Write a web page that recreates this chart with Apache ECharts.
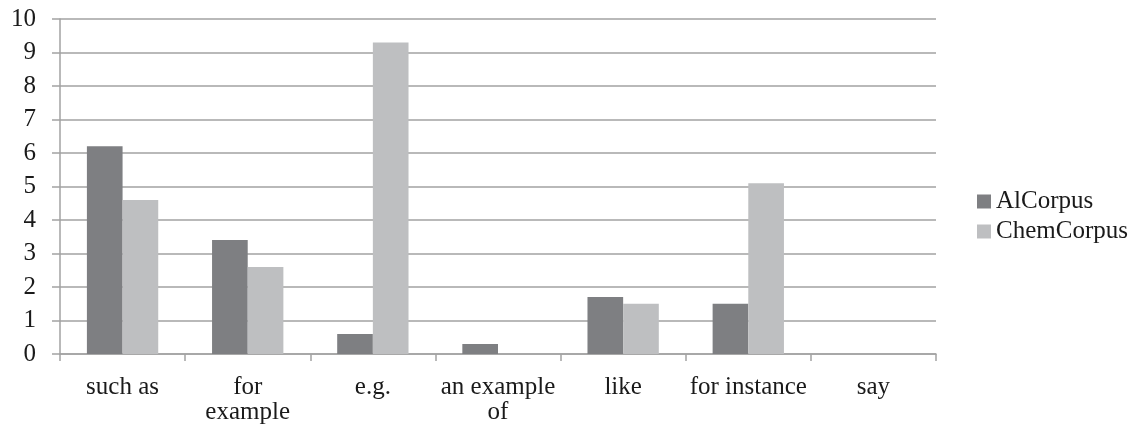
<!DOCTYPE html>
<html>
<head>
<meta charset="utf-8">
<script src="https://cdn.jsdelivr.net/npm/echarts@6/dist/echarts.min.js"></script>
<style>
  html, body { margin: 0; padding: 0; background: #fff; }
  #chart { width: 1146px; height: 432px; }
</style>
</head>
<body>
<div id="chart"></div>
<script>
// Frequency of exemplification markers in the two corpora
var categories = ['such as', 'for example', 'e.g.', 'an example of', 'like', 'for instance', 'say'];
var categoryLabels = ['such as', 'for\nexample', 'e.g.', 'an example\nof', 'like', 'for instance', 'say'];
var alCorpus = [6.2, 3.4, 0.6, 0.3, 1.7, 1.5, 0];
var chemCorpus = [4.6, 2.6, 9.3, 0, 1.5, 5.1, 0];
var yTicks = [0, 1, 2, 3, 4, 5, 6, 7, 8, 9, 10];

var FONT = '"Liberation Serif", "Times New Roman", serif';
var FONT_SIZE = 25;
var GRID_COLOR = '#a2a2a2';

var chart = echarts.init(document.getElementById('chart'), null, { renderer: 'canvas' });
chart.setOption({
  animation: false,
  backgroundColor: '#ffffff',
  textStyle: { fontFamily: FONT },
  grid: { left: 60, right: 210, top: 19, bottom: 78, containLabel: false },
  legend: {
    orient: 'vertical',
    left: 972,
    top: 184,
    itemWidth: 14,
    itemHeight: 14,
    itemGap: 5,
    icon: 'rect',
    textStyle: { fontFamily: FONT, fontSize: FONT_SIZE, color: '#1a1a1a', lineHeight: 25 },
    data: ['AlCorpus', 'ChemCorpus']
  },
  xAxis: {
    type: 'category',
    data: categories,
    axisLine: { show: true, lineStyle: { color: GRID_COLOR, width: 1.5 } },
    axisTick: { show: true, length: 7, lineStyle: { color: GRID_COLOR, width: 1.5 } },
    axisLabel: {
      interval: 0,
      margin: 21,
      fontFamily: FONT,
      fontSize: FONT_SIZE,
      lineHeight: 25,
      color: '#1a1a1a',
      formatter: function (value, idx) { return categoryLabels[idx]; }
    },
    splitLine: { show: false }
  },
  yAxis: {
    type: 'value',
    min: yTicks[0],
    max: yTicks[yTicks.length - 1],
    interval: 1,
    axisLine: { show: true, lineStyle: { color: GRID_COLOR, width: 1.5 } },
    axisTick: { show: true, length: 8, lineStyle: { color: GRID_COLOR, width: 1.5 } },
    axisLabel: { margin: 24, fontFamily: FONT, fontSize: FONT_SIZE, color: '#1a1a1a' },
    splitLine: { show: true, lineStyle: { color: GRID_COLOR, width: 1.5 } }
  },
  series: [
    {
      name: 'AlCorpus',
      type: 'bar',
      data: alCorpus,
      barGap: '0%',
      barCategoryGap: '43%',
      itemStyle: { color: '#7e7f82' }
    },
    {
      name: 'ChemCorpus',
      type: 'bar',
      data: chemCorpus,
      barGap: '0%',
      barCategoryGap: '43%',
      itemStyle: { color: '#bebfc1' }
    }
  ]
});
</script>
</body>
</html>
